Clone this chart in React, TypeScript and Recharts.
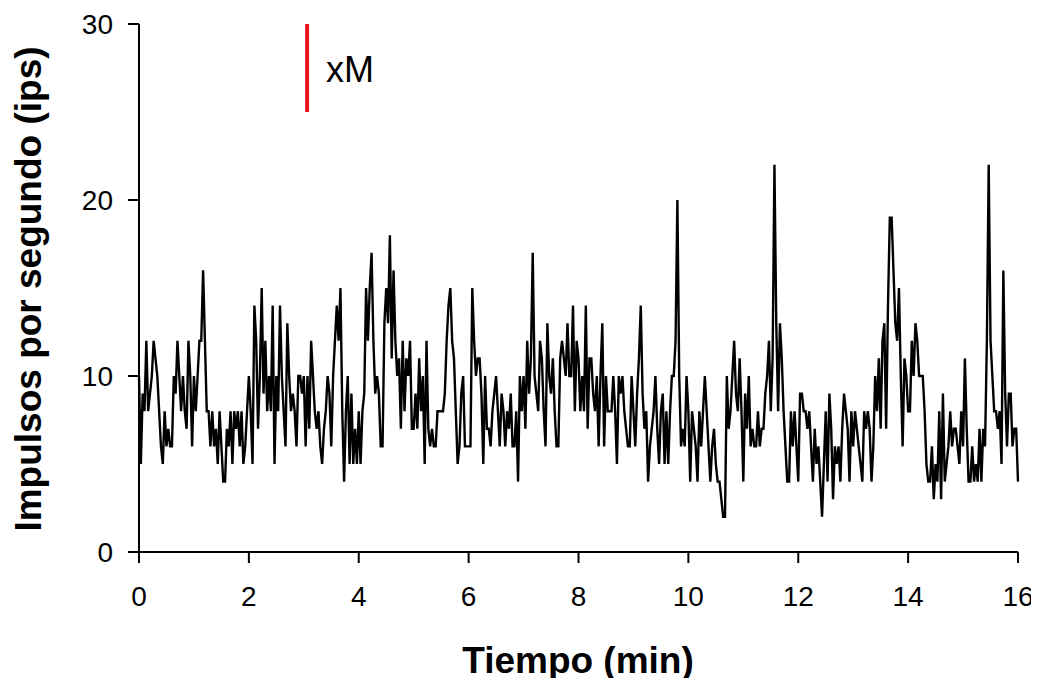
import React from 'react';
import { LineChart, Line, XAxis, YAxis, ReferenceLine } from 'recharts';

// Impulses per second, one value every 2 s (30 per minute), 0 to 16 min
const min00 = [10,5,9,8,12,8,9,10,12,11,10,8,6,5,8,6,7,6,6,10,9,12,10,8,10,8,7,12,10,6];
const min01 = [10,8,10,12,12,16,12,8,8,6,8,6,7,5,8,6,4,4,7,6,8,5,8,7,8,6,8,5,6,8];
const min02 = [10,8,5,14,12,7,10,15,9,12,8,10,8,14,5,10,8,14,10,8,6,13,10,8,9,8,6,10,10,9];
const min03 = [10,6,10,7,12,10,8,7,8,6,5,7,8,10,9,6,10,12,14,12,15,8,4,8,10,5,9,5,7,5];
const min04 = [8,5,8,9,15,12,15,17,12,9,10,9,6,6,13,15,13,18,11,16,12,10,11,7,12,8,11,10,12,7];
const min05 = [7,9,7,11,8,10,5,12,7,6,7,6,6,8,8,8,8,9,12,14,15,12,11,8,5,6,9,10,6,6];
const min06 = [6,6,15,12,10,11,11,9,5,10,7,7,6,8,9,10,8,6,9,8,6,8,7,9,6,6,8,4,10,8];
const min07 = [10,7,12,9,11,17,10,9,8,12,11,8,6,13,10,9,11,8,6,6,11,12,11,10,13,10,10,14,8,12];
const min08 = [11,8,10,8,14,7,11,11,9,8,10,6,10,13,6,10,8,8,8,10,8,5,10,9,10,8,7,6,6,10];
const min09 = [8,6,9,11,14,9,7,8,4,6,7,8,10,7,5,8,9,5,8,5,8,10,10,12,20,10,6,7,6,10];
const min10 = [8,4,8,7,6,4,8,6,8,10,8,6,4,6,7,5,4,4,3,2,2,10,7,8,10,12,9,8,11,8];
const min11 = [4,9,7,10,6,7,6,6,8,6,7,7,9,10,12,8,11,22,13,8,13,11,8,6,4,4,8,6,8,6];
const min12 = [4,9,9,8,8,7,8,6,4,7,5,6,4,2,5,8,4,9,7,3,6,5,6,4,7,9,8,7,4,8];
const min13 = [6,8,7,6,5,4,8,7,8,7,4,6,10,8,11,7,12,13,7,14,19,19,16,13,12,15,10,6,11,10];
const min14 = [8,8,12,10,13,12,10,10,10,8,5,4,4,6,3,5,4,8,3,9,4,5,6,8,6,7,7,6,5,8];
const min15 = [6,11,7,4,4,6,4,5,4,7,4,7,6,12,22,12,10,8,8,7,8,5,16,9,6,9,9,6,7,7,4];

const SAMPLE_SECONDS = 2;
const xTicks = [0, 2, 4, 6, 8, 10, 12, 14, 16];
const yTicks = [0, 10, 20, 30];
const markerTime = 3.06;
const markerRange = [25, 30];
const markerLabel = 'xM';
const xTitle = 'Tiempo (min)';
const yTitle = 'Impulsos por segundo (ips)';

const series = [
  ...min00, ...min01, ...min02, ...min03, ...min04, ...min05, ...min06, ...min07,
  ...min08, ...min09, ...min10, ...min11, ...min12, ...min13, ...min14, ...min15,
];
const data = series.map((v, i) => ({ t: (i * SAMPLE_SECONDS) / 60, v }));

const FONT = '"Liberation Sans", Arial, Helvetica, sans-serif';

const MarkerLabel = (props: any) => {
  const vb = props.viewBox || {};
  return (
    <text x={(vb.x || 0) + 19} y={(vb.y || 0) + 58} fontSize={36} fontFamily={FONT} fill="#000">
      {markerLabel}
    </text>
  );
};

export default function App() {
  return (
    <div style={{ position: 'relative', width: 1031, height: 670, fontFamily: FONT }}>
      <LineChart
        width={1031}
        height={670}
        data={data}
        margin={{ top: 16, right: 21, bottom: 66, left: 71 }}
      >
        <XAxis
          dataKey="t"
          type="number"
          domain={[0, 16]}
          ticks={xTicks}
          tickSize={11}
          tickMargin={23}
          height={60}
          stroke="#000"
          strokeWidth={2}
          tick={{ fill: '#000', fontSize: 28, fontFamily: FONT }}
          allowDecimals={false}
        />
        <YAxis
          type="number"
          domain={[0, 30]}
          ticks={yTicks}
          tickSize={11}
          tickMargin={15}
          width={60}
          stroke="#000"
          strokeWidth={2}
          tick={{ fill: '#000', fontSize: 28, fontFamily: FONT }}
        />
        <Line
          type="linear"
          dataKey="v"
          stroke="#000"
          strokeWidth={2.4}
          dot={false}
          isAnimationActive={false}
        />
        <ReferenceLine
          segment={[{ x: markerTime, y: markerRange[0] }, { x: markerTime, y: markerRange[1] }]}
          stroke="#e8131f"
          strokeWidth={4}
          label={<MarkerLabel />}
        />
      </LineChart>
      <div
        style={{
          position: 'absolute',
          left: 570 - 300,
          top: 633,
          width: 600,
          textAlign: 'center',
          fontSize: 37,
          fontWeight: 'bold',
          lineHeight: '40px',
          color: '#000',
        }}
      >
        {xTitle}
      </div>
      <div
        style={{
          position: 'absolute',
          left: 21 - 300,
          top: 281 - 20,
          width: 600,
          height: 40,
          textAlign: 'center',
          fontSize: 37,
          fontWeight: 'bold',
          lineHeight: '40px',
          color: '#000',
          transform: 'rotate(-90deg)',
        }}
      >
        {yTitle}
      </div>
    </div>
  );
}
